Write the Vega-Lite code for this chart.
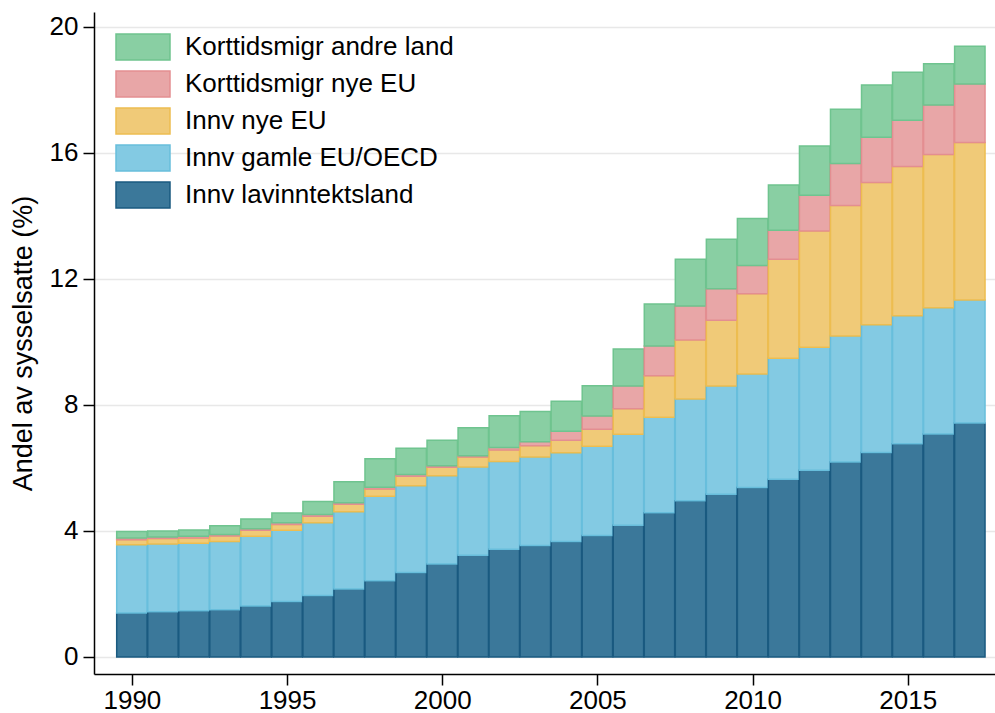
{
  "$schema": "https://vega.github.io/schema/vega-lite/v6.json",
  "autosize": "none",
  "width": 901,
  "height": 662,
  "padding": {"left": 94, "top": 12, "right": 0, "bottom": 39},
  "background": "white",
  "config": {
    "font": "Liberation Sans",
    "view": {"stroke": null},
    "axis": {"labelFont": "Liberation Sans", "titleFont": "Liberation Sans", "labelColor": "black", "titleColor": "black"}
  },
  "datasets": {
    "wide": [
      {"aar": 1990, "a_lav": 1.40, "b_gamle": 2.16, "c_nye": 0.16, "d_ktnye": 0.06, "e_ktandre": 0.20},
      {"aar": 1991, "a_lav": 1.44, "b_gamle": 2.15, "c_nye": 0.17, "d_ktnye": 0.05, "e_ktandre": 0.19},
      {"aar": 1992, "a_lav": 1.47, "b_gamle": 2.14, "c_nye": 0.17, "d_ktnye": 0.05, "e_ktandre": 0.20},
      {"aar": 1993, "a_lav": 1.50, "b_gamle": 2.17, "c_nye": 0.17, "d_ktnye": 0.05, "e_ktandre": 0.28},
      {"aar": 1994, "a_lav": 1.62, "b_gamle": 2.21, "c_nye": 0.19, "d_ktnye": 0.05, "e_ktandre": 0.31},
      {"aar": 1995, "a_lav": 1.76, "b_gamle": 2.26, "c_nye": 0.19, "d_ktnye": 0.05, "e_ktandre": 0.31},
      {"aar": 1996, "a_lav": 1.95, "b_gamle": 2.31, "c_nye": 0.21, "d_ktnye": 0.05, "e_ktandre": 0.42},
      {"aar": 1997, "a_lav": 2.16, "b_gamle": 2.45, "c_nye": 0.24, "d_ktnye": 0.05, "e_ktandre": 0.66},
      {"aar": 1998, "a_lav": 2.42, "b_gamle": 2.68, "c_nye": 0.23, "d_ktnye": 0.06, "e_ktandre": 0.90},
      {"aar": 1999, "a_lav": 2.68, "b_gamle": 2.76, "c_nye": 0.30, "d_ktnye": 0.05, "e_ktandre": 0.84},
      {"aar": 2000, "a_lav": 2.95, "b_gamle": 2.80, "c_nye": 0.27, "d_ktnye": 0.05, "e_ktandre": 0.81},
      {"aar": 2001, "a_lav": 3.23, "b_gamle": 2.80, "c_nye": 0.32, "d_ktnye": 0.04, "e_ktandre": 0.89},
      {"aar": 2002, "a_lav": 3.42, "b_gamle": 2.79, "c_nye": 0.36, "d_ktnye": 0.08, "e_ktandre": 1.01},
      {"aar": 2003, "a_lav": 3.54, "b_gamle": 2.81, "c_nye": 0.36, "d_ktnye": 0.12, "e_ktandre": 0.96},
      {"aar": 2004, "a_lav": 3.67, "b_gamle": 2.81, "c_nye": 0.40, "d_ktnye": 0.29, "e_ktandre": 0.95},
      {"aar": 2005, "a_lav": 3.86, "b_gamle": 2.83, "c_nye": 0.54, "d_ktnye": 0.42, "e_ktandre": 0.96},
      {"aar": 2006, "a_lav": 4.18, "b_gamle": 2.89, "c_nye": 0.81, "d_ktnye": 0.72, "e_ktandre": 1.18},
      {"aar": 2007, "a_lav": 4.58, "b_gamle": 3.03, "c_nye": 1.32, "d_ktnye": 0.94, "e_ktandre": 1.34},
      {"aar": 2008, "a_lav": 4.96, "b_gamle": 3.23, "c_nye": 1.87, "d_ktnye": 1.08, "e_ktandre": 1.49},
      {"aar": 2009, "a_lav": 5.17, "b_gamle": 3.43, "c_nye": 2.09, "d_ktnye": 1.00, "e_ktandre": 1.57},
      {"aar": 2010, "a_lav": 5.38, "b_gamle": 3.60, "c_nye": 2.55, "d_ktnye": 0.90, "e_ktandre": 1.49},
      {"aar": 2011, "a_lav": 5.64, "b_gamle": 3.84, "c_nye": 3.15, "d_ktnye": 0.92, "e_ktandre": 1.43},
      {"aar": 2012, "a_lav": 5.93, "b_gamle": 3.90, "c_nye": 3.69, "d_ktnye": 1.14, "e_ktandre": 1.56},
      {"aar": 2013, "a_lav": 6.19, "b_gamle": 4.00, "c_nye": 4.14, "d_ktnye": 1.34, "e_ktandre": 1.72},
      {"aar": 2014, "a_lav": 6.49, "b_gamle": 4.06, "c_nye": 4.51, "d_ktnye": 1.44, "e_ktandre": 1.66},
      {"aar": 2015, "a_lav": 6.77, "b_gamle": 4.06, "c_nye": 4.74, "d_ktnye": 1.47, "e_ktandre": 1.52},
      {"aar": 2016, "a_lav": 7.08, "b_gamle": 4.01, "c_nye": 4.86, "d_ktnye": 1.57, "e_ktandre": 1.31},
      {"aar": 2017, "a_lav": 7.43, "b_gamle": 3.90, "c_nye": 5.00, "d_ktnye": 1.86, "e_ktandre": 1.20}
    ],
    "navn": [
      {"kode": "a_lav", "serie": "Innv lavinntektsland"},
      {"kode": "b_gamle", "serie": "Innv gamle EU/OECD"},
      {"kode": "c_nye", "serie": "Innv nye EU"},
      {"kode": "d_ktnye", "serie": "Korttidsmigr nye EU"},
      {"kode": "e_ktandre", "serie": "Korttidsmigr andre land"}
    ]
  },
  "data": {"name": "wide"},
  "transform": [
    {"fold": ["a_lav", "b_gamle", "c_nye", "d_ktnye", "e_ktandre"], "as": ["kode", "andel"]},
    {"lookup": "kode", "from": {"data": {"name": "navn"}, "key": "kode", "fields": ["serie"]}}
  ],
  "mark": {"type": "bar", "width": 30.4, "strokeWidth": 1.5},
  "encoding": {
    "x": {
      "field": "aar", "type": "quantitative",
      "scale": {"domain": [1988.94, 2017.65], "nice": false, "zero": false},
      "axis": {
        "values": [1990, 1995, 2000, 2005, 2010, 2015], "format": "d",
        "title": null, "grid": false,
        "domainColor": "black", "domainWidth": 1.5,
        "tickColor": "black", "tickWidth": 1.5, "tickSize": 11,
        "labelFontSize": 26, "labelPadding": 2, "labelFlush": false
      }
    },
    "y": {
      "field": "andel", "type": "quantitative", "stack": "zero",
      "scale": {"domain": [-0.54, 20.476], "nice": false, "zero": false},
      "axis": {
        "values": [0, 4, 8, 12, 16, 20],
        "title": "Andel av sysselsatte (%)", "titleFontSize": 27, "titleFontWeight": "normal", "titlePadding": 12,
        "grid": true, "gridColor": "#e8e8e8", "gridWidth": 1.5,
        "domainColor": "black", "domainWidth": 1.5,
        "tickColor": "black", "tickWidth": 1.5, "tickSize": 11,
        "labelFontSize": 26, "labelPadding": 5, "labelFlush": false
      }
    },
    "fill": {
      "field": "serie", "type": "nominal",
      "scale": {
        "domain": ["Innv lavinntektsland", "Innv gamle EU/OECD", "Innv nye EU", "Korttidsmigr nye EU", "Korttidsmigr andre land"],
        "range": ["#3b789a", "#83cae3", "#f0ca78", "#e8a6a7", "#89cfa3"]
      },
      "legend": {
        "values": ["Korttidsmigr andre land", "Korttidsmigr nye EU", "Innv nye EU", "Innv gamle EU/OECD", "Innv lavinntektsland"],
        "title": null, "orient": "none", "legendX": 33, "legendY": 19,
        "symbolType": "M-1.8,-0.87H1.8V0.87H-1.8Z", "symbolSize": 900, "symbolStrokeWidth": 1.5, "symbolOpacity": 1,
        "labelFontSize": 26, "labelColor": "black", "labelOffset": 26, "rowPadding": 3, "labelLimit": 500
      }
    },
    "stroke": {
      "field": "serie", "type": "nominal",
      "scale": {
        "domain": ["Innv lavinntektsland", "Innv gamle EU/OECD", "Innv nye EU", "Korttidsmigr nye EU", "Korttidsmigr andre land"],
        "range": ["#1a5a80", "#68bedc", "#edbd50", "#e38e91", "#6fc48f"]
      },
      "legend": null
    },
    "order": {"field": "kode", "type": "nominal", "sort": "ascending"}
  }
}
